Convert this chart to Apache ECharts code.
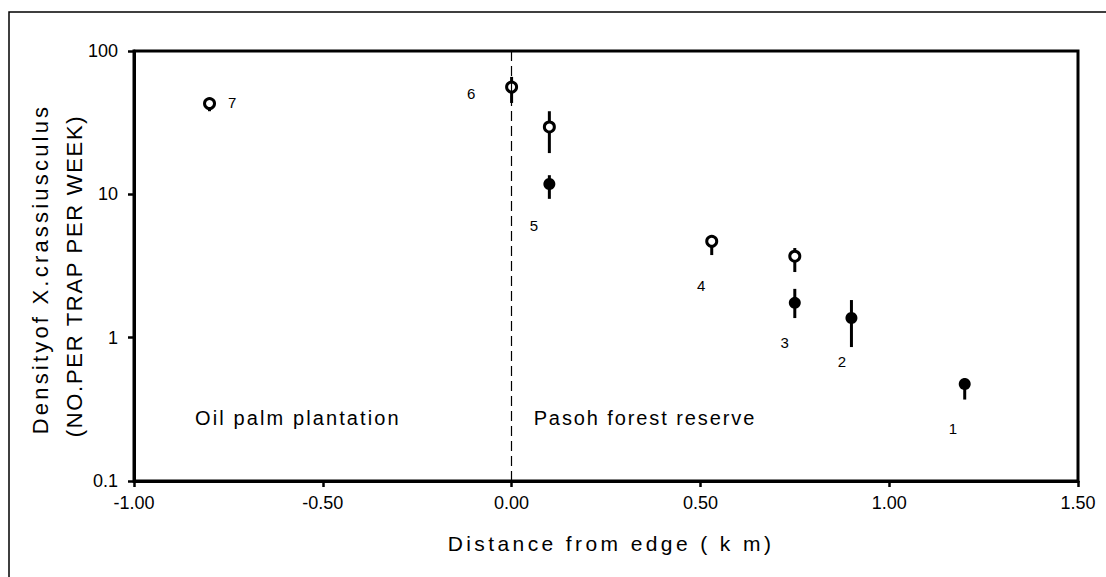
<!DOCTYPE html>
<html>
<head>
<meta charset="utf-8">
<title>Density of X. crassiusculus vs distance from edge</title>
<script src="https://cdn.jsdelivr.net/npm/echarts@6/dist/echarts.min.js"></script>
<style>
html,body{margin:0;padding:0;background:#fff;}
#main{width:1106px;height:577px;}
</style>
</head>
<body>
<div id="main"></div>
<script>
// 空心点 (open circles) + 误差线
var openX = [-0.80, 0.00, 0.10, 0.53, 0.75];
var openY = [43, 56, 29.5, 4.7, 3.7];
var openLow = [38, 43.4, 19.4, 3.77, 2.87];
var openHigh = [44, 66, 38, 5.2, 4.22];

// 实心点 (filled circles) + 误差线
var filledX = [0.10, 0.75, 0.90, 1.20];
var filledY = [11.8, 1.75, 1.37, 0.475];
var filledLow = [9.3, 1.37, 0.86, 0.37];
var filledHigh = [13.6, 2.19, 1.83, 0.52];

// site numbers and where they sit (data units)
var siteNames = ['7', '6', '5', '4', '3', '2', '1'];
var siteLabelX = [-0.74, -0.107, 0.059, 0.502, 0.723, 0.875, 1.169];
var siteLabelY = [43.4, 50.9, 6.11, 2.33, 0.918, 0.687, 0.231];

// area names
var areaNames = ['Oil palm plantation', 'Pasoh forest reserve'];
var areaX = [-0.566, 0.353];
var areaY = [0.275, 0.275];

// axes
var xMin = -1.0, xMax = 1.5, xStep = 0.5;
var yMin = 0.1, yMax = 100;
var edgeX = 0; // forest edge (dashed line)

var FONT = '"Liberation Sans", Arial, Helvetica, sans-serif';

// letter spacing for the wide scanned text (svg only)
var spacing = {
    'Distance from edge ( k m)': '3.4px',
    'Densityof X.crassiusculus': '3.2px',
    '(NO.PER TRAP PER WEEK)': '1.7px',
    'Oil palm plantation': '2.1px',
    'Pasoh forest reserve': '1.9px'
};

function errorBar(params, api) {
    var top = api.coord([api.value(0), api.value(2)]);
    var bottom = api.coord([api.value(0), api.value(1)]);
    return {
        type: 'line',
        shape: {x1: top[0], y1: top[1], x2: bottom[0], y2: bottom[1]},
        style: {stroke: '#000', lineWidth: 3}
    };
}

function zip3(a, b, c) {
    var out = [];
    for (var i = 0; i < a.length; i++) {
        out.push([a[i], b[i], c[i]]);
    }
    return out;
}

function named(xs, ys, names) {
    var out = [];
    for (var i = 0; i < xs.length; i++) {
        out.push({name: names[i], value: [xs[i], ys[i]]});
    }
    return out;
}

function textLabel(size) {
    return {
        show: true,
        position: 'inside',
        formatter: '{b}',
        color: '#000',
        opacity: 1,
        textBorderWidth: 0,
        textBorderColor: 'transparent',
        textShadowBlur: 0,
        fontSize: size,
        fontFamily: FONT
    };
}

var myChart = echarts.init(document.getElementById('main'), null, {renderer: 'svg'});

var errData = zip3(openX, openLow, openHigh).concat(zip3(filledX, filledLow, filledHigh));
var openData = [], filledData = [];
for (var i = 0; i < openX.length; i++) openData.push([openX[i], openY[i]]);
for (var i = 0; i < filledX.length; i++) filledData.push([filledX[i], filledY[i]]);

var option = {
    animation: false,
    backgroundColor: '#fff',
    grid: {
        left: 134,
        right: 28,
        top: 51,
        bottom: 96,
        show: true,
        borderColor: '#000',
        borderWidth: 3
    },
    xAxis: {
        type: 'value',
        min: xMin,
        max: xMax,
        interval: xStep,
        splitLine: {show: false},
        axisLine: {onZero: false, lineStyle: {color: '#000', width: 3}},
        axisTick: {show: true, length: 6, lineStyle: {color: '#000', width: 2.5}},
        axisLabel: {
            margin: 13,
            color: '#000',
            fontSize: 18,
            fontFamily: FONT,
            formatter: function (v) { return v.toFixed(2); }
        }
    },
    yAxis: {
        type: 'log',
        logBase: 10,
        min: yMin,
        max: yMax,
        splitLine: {show: false},
        minorTick: {show: false},
        axisLine: {onZero: false, lineStyle: {color: '#000', width: 3}},
        axisTick: {show: true, length: 6, lineStyle: {color: '#000', width: 2.5}},
        axisLabel: {
            margin: 16,
            color: '#000',
            fontSize: 18,
            fontFamily: FONT,
            formatter: function (v) { return String(+v.toPrecision(3)); }
        }
    },
    graphic: [
        {   // outer frame of the figure
            type: 'rect',
            silent: true,
            shape: {x: 9, y: 12, width: 1200, height: 700},
            style: {fill: 'none', stroke: '#000', lineWidth: 1.5}
        },
        {
            type: 'text', silent: true,
            x: 40, y: 269, rotation: Math.PI / 2,
            style: {text: 'Densityof X.crassiusculus', font: '22px ' + FONT, fill: '#000', align: 'center', verticalAlign: 'middle'}
        },
        {
            type: 'text', silent: true,
            x: 74, y: 276, rotation: Math.PI / 2,
            style: {text: '(NO.PER TRAP PER WEEK)', font: '22px ' + FONT, fill: '#000', align: 'center', verticalAlign: 'middle'}
        },
        {
            type: 'text', silent: true,
            x: 611, y: 543,
            style: {text: 'Distance from edge ( k m)', font: '21px ' + FONT, fill: '#000', align: 'center', verticalAlign: 'middle'}
        }
    ],
    series: [
        {
            name: 'error',
            type: 'custom',
            renderItem: errorBar,
            encode: {x: 0, y: [1, 2]},
            data: errData,
            silent: true,
            z: 2,
            markLine: {
                silent: true,
                symbol: ['none', 'none'],
                label: {show: false},
                lineStyle: {color: '#000', width: 1.2, type: [10, 5], opacity: 1},
                data: [{xAxis: edgeX}]
            }
        },
        {
            name: 'open',
            type: 'scatter',
            symbol: 'circle',
            symbolSize: 10,
            silent: true,
            z: 3,
            itemStyle: {color: '#fff', borderColor: '#000', borderWidth: 3, opacity: 1},
            data: openData
        },
        {
            name: 'filled',
            type: 'scatter',
            symbol: 'circle',
            symbolSize: 12,
            silent: true,
            z: 3,
            itemStyle: {color: '#000', opacity: 1},
            data: filledData
        },
        {
            name: 'sites',
            type: 'scatter',
            symbolSize: 0,
            silent: true,
            z: 4,
            itemStyle: {color: '#000'},
            label: textLabel(15),
            data: named(siteLabelX, siteLabelY, siteNames)
        },
        {
            name: 'areas',
            type: 'scatter',
            symbolSize: 0,
            silent: true,
            z: 4,
            itemStyle: {color: '#000'},
            label: textLabel(20),
            data: named(areaX, areaY, areaNames)
        }
    ]
};

myChart.setOption(option);

// widen the scanned-looking labels
function applySpacing() {
    var texts = document.querySelectorAll('#main text');
    for (var i = 0; i < texts.length; i++) {
        var s = spacing[texts[i].textContent];
        if (s) texts[i].style.letterSpacing = s;
    }
}
applySpacing();
myChart.on('finished', applySpacing);
</script>
</body>
</html>
